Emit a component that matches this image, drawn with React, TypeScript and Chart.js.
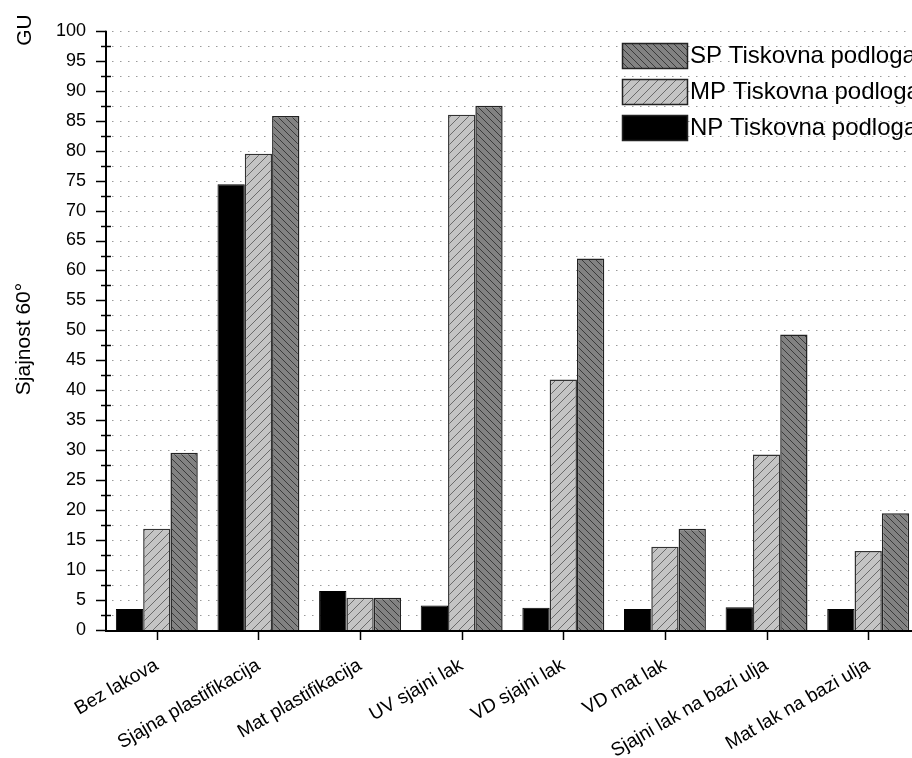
import React, { useEffect, useRef } from "react";
import { Chart, registerables } from "chart.js";

Chart.register(...registerables);

const categories = [
  "Bez lakova",
  "Sjajna plastifikacija",
  "Mat plastifikacija",
  "UV sjajni lak",
  "VD sjajni lak",
  "VD mat lak",
  "Sjajni lak na bazi ulja",
  "Mat lak na bazi ulja",
];
const npValues = [3.5, 74.4, 6.5, 4.1, 3.7, 3.5, 3.8, 3.5];
const mpValues = [16.9, 79.5, 5.4, 86.0, 41.8, 13.9, 29.3, 13.2];
const spValues = [29.6, 85.8, 5.4, 87.5, 62.0, 16.9, 49.3, 19.5];
const seriesLabels = ["NP Tiskovna podloga", "MP Tiskovna podloga", "SP Tiskovna podloga"];
const yMin = 0;
const yMax = 100;
const yMajorStep = 5;
const yMinorStep = 2.5;
const yTitle = "Sjajnost 60°";
const yUnit = "GU";

const FONT = "'Liberation Sans', Arial, sans-serif";

function makeHatch(bg: string, line: string, size: number, forward: boolean): CanvasPattern | string {
  const c = document.createElement("canvas");
  c.width = size;
  c.height = size;
  const g = c.getContext("2d");
  if (!g) return bg;
  g.fillStyle = bg;
  g.fillRect(0, 0, size, size);
  g.strokeStyle = line;
  g.lineWidth = 1;
  g.beginPath();
  if (forward) {
    g.moveTo(-1, size + 1);
    g.lineTo(size + 1, -1);
    g.moveTo(-1, 1);
    g.lineTo(1, -1);
    g.moveTo(size - 1, size + 1);
    g.lineTo(size + 1, size - 1);
  } else {
    g.moveTo(-1, -1);
    g.lineTo(size + 1, size + 1);
    g.moveTo(size - 1, -1);
    g.lineTo(size + 1, 1);
    g.moveTo(-1, size - 1);
    g.lineTo(1, size + 1);
  }
  g.stroke();
  const p = g.createPattern(c, "repeat");
  return p || bg;
}

const decorPlugin = {
  id: "decor",
  beforeDatasetsDraw(chart: any) {
    const { ctx, chartArea, scales } = chart;
    const y = scales.y;
    ctx.save();
    ctx.strokeStyle = "#9a9a9a";
    ctx.lineWidth = 1;
    ctx.setLineDash([1.5, 6.5]);
    for (let v = yMin + yMinorStep; v <= yMax + 0.001; v += yMinorStep) {
      const py = Math.round(y.getPixelForValue(v)) + 0.5;
      ctx.beginPath();
      ctx.moveTo(chartArea.left + 6, py);
      ctx.lineTo(chartArea.right, py);
      ctx.stroke();
    }
    ctx.restore();
  },
  afterDatasetsDraw(chart: any) {
    const { ctx, chartArea, scales } = chart;
    const y = scales.y;
    const x = scales.x;
    ctx.save();
    ctx.strokeStyle = "#000";
    ctx.setLineDash([]);
    // axes
    ctx.lineWidth = 2;
    ctx.beginPath();
    ctx.moveTo(chartArea.left, chartArea.top);
    ctx.lineTo(chartArea.left, chartArea.bottom + 1);
    ctx.lineTo(chartArea.right + 10, chartArea.bottom + 1);
    ctx.stroke();
    // y ticks
    ctx.lineWidth = 1.5;
    for (let v = yMin; v <= yMax + 0.001; v += yMinorStep) {
      const py = Math.round(y.getPixelForValue(v)) + 0.5;
      const major = Math.abs(v / yMajorStep - Math.round(v / yMajorStep)) < 1e-6;
      ctx.beginPath();
      if (major) {
        ctx.moveTo(chartArea.left - 10, py);
        ctx.lineTo(chartArea.left, py);
      } else {
        ctx.moveTo(chartArea.left - 5, py);
        ctx.lineTo(chartArea.left + 5, py);
      }
      ctx.stroke();
    }
    // x ticks
    for (let i = 0; i < categories.length; i++) {
      const px = Math.round(x.getPixelForValue(i)) + 0.5;
      ctx.beginPath();
      ctx.moveTo(px, chartArea.bottom);
      ctx.lineTo(px, chartArea.bottom + 10);
      ctx.stroke();
    }
    // y title
    ctx.fillStyle = "#000";
    ctx.font = `21px ${FONT}`;
    ctx.textAlign = "center";
    ctx.textBaseline = "alphabetic";
    ctx.save();
    ctx.translate(30, 339);
    ctx.rotate(-Math.PI / 2);
    ctx.fillText(yTitle, 0, 0);
    ctx.restore();
    ctx.save();
    ctx.translate(31, 30);
    ctx.rotate(-Math.PI / 2);
    ctx.fillText(yUnit, 0, 0);
    ctx.restore();
    // legend (reverse order)
    const ds = chart.data.datasets;
    const boxX = 622;
    const boxW = 65;
    const boxH = 25;
    const rowY = [43, 79, 115];
    ctx.font = `24px ${FONT}`;
    ctx.textAlign = "left";
    ctx.textBaseline = "middle";
    for (let k = 0; k < ds.length; k++) {
      const d = ds[ds.length - 1 - k];
      const by = rowY[k];
      ctx.fillStyle = d.backgroundColor;
      ctx.fillRect(boxX, by, boxW, boxH);
      ctx.lineWidth = 1.5;
      ctx.strokeStyle = "#222";
      ctx.strokeRect(boxX + 0.5, by + 0.5, boxW, boxH);
      ctx.fillStyle = "#000";
      ctx.fillText(d.label, boxX + boxW + 3, by + boxH / 2 + 1);
    }
    ctx.restore();
  },
};

export default function App() {
  const ref = useRef<HTMLCanvasElement | null>(null);
  useEffect(() => {
    document.body.style.margin = "0";
    const canvas = ref.current;
    if (!canvas) return;
    const mpFill = makeHatch("#c4c4c4", "#6a6a6a", 9, true);
    const spFill = makeHatch("#828282", "#3a3a3a", 7, false);
    const chart = new Chart(canvas, {
      type: "bar",
      data: {
        labels: categories,
        datasets: [
          { label: seriesLabels[0], data: npValues, backgroundColor: "#000000", borderColor: "#000", borderWidth: 1 },
          { label: seriesLabels[1], data: mpValues, backgroundColor: mpFill as any, borderColor: "#333", borderWidth: 1.5 },
          { label: seriesLabels[2], data: spValues, backgroundColor: spFill as any, borderColor: "#222", borderWidth: 1.5 },
        ],
      },
      options: {
        responsive: false,
        animation: false,
        layout: { padding: { top: 25, right: 6, left: 0, bottom: 0 } },
        plugins: { legend: { display: false }, tooltip: { enabled: false } },
        datasets: { bar: { categoryPercentage: 0.806, barPercentage: 1 } },
        scales: {
          x: {
            type: "category",
            offset: true,
            grid: { display: false, drawTicks: false },
            border: { display: false },
            ticks: {
              color: "#000",
              font: { family: FONT, size: 19 },
              minRotation: 30,
              maxRotation: 30,
              padding: 24,
              autoSkip: false,
            },
            afterFit: (s: any) => {
              s.height = 128;
            },
          },
          y: {
            min: yMin,
            max: yMax,
            grid: { display: false, drawTicks: false },
            border: { display: false },
            ticks: {
              stepSize: yMajorStep,
              color: "#000",
              font: { family: FONT, size: 18 },
              padding: 20,
            },
            afterFit: (s: any) => {
              s.width = 106;
            },
          },
        },
      },
      plugins: [decorPlugin],
    });
    return () => chart.destroy();
  }, []);
  return (
    <div style={{ width: 912, height: 758, overflow: "hidden", background: "#fff" }}>
      <canvas ref={ref} width={925} height={758} style={{ display: "block" }} />
    </div>
  );
}
